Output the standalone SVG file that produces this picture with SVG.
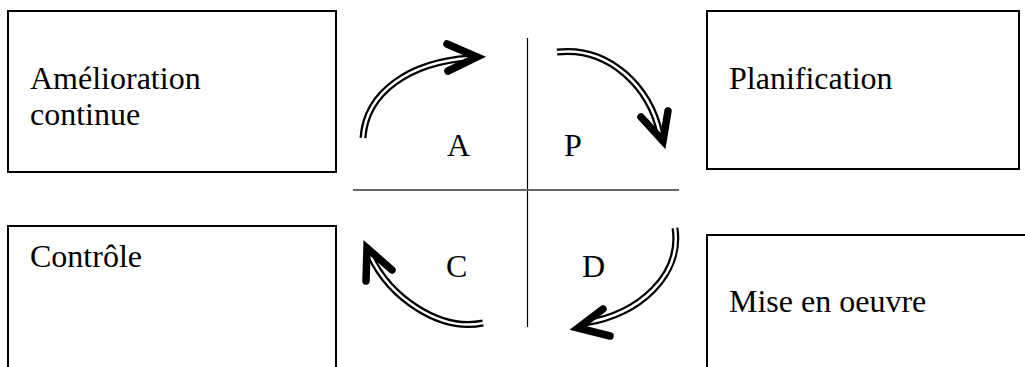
<svg xmlns="http://www.w3.org/2000/svg" width="1025" height="367" viewBox="0 0 1025 367">
<style>
.box{fill:#fff;stroke:#000;stroke-width:2}
.t{font-family:"Liberation Serif","Times New Roman",serif;font-size:32px;fill:#000}
.outer{fill:none;stroke:#000;stroke-width:7}
.inner{fill:none;stroke:#fff;stroke-width:2.5}
.head{fill:none;stroke:#000;stroke-width:7.5;stroke-linecap:round;stroke-linejoin:miter}
.axis{stroke:#666;stroke-width:2}
.vaxis{stroke:#000;stroke-width:1.2}
</style>
<rect width="1025" height="367" fill="#fff"/>
<g id="amelioration">
<rect class="box" x="8" y="11" width="328" height="161"/>
<text class="t" x="30" y="89">Amélioration</text>
<text class="t" x="30" y="125">continue</text>
</g>
<g id="planification">
<rect class="box" x="707" y="11" width="312" height="158"/>
<text class="t" x="729" y="89">Planification</text>
</g>
<g id="controle">
<rect class="box" x="8" y="226" width="328" height="150"/>
<text class="t" x="30" y="267">Contrôle</text>
</g>
<g id="miseenoeuvre">
<rect class="box" x="707" y="235" width="330" height="150"/>
<text class="t" x="729" y="312">Mise en oeuvre</text>
</g>
<g id="cross">
<line class="vaxis" x1="527.5" y1="38" x2="527.5" y2="327"/>
<line class="axis" x1="353" y1="190" x2="679" y2="190"/>
<text class="t" x="447" y="156">A</text>
<text class="t" x="564" y="156">P</text>
<text class="t" x="446" y="277">C</text>
<text class="t" x="582" y="277">D</text>
</g>
<g id="connectors">
<path class="outer" d="M363,138 C366,92 410,62 470,58"/>
<path class="inner" d="M363,138 C366,92 410,62 470,58"/>
<polyline class="head" points="447,44 477,57 448,71"/>
<path class="outer" d="M557,52 C610,46 650,88 660,134"/>
<path class="inner" d="M557,52 C610,46 650,88 660,134"/>
<polyline class="head" points="641,117 663,141 668,111"/>
<path class="outer" d="M483,323 C440,332 390,298 370,255"/>
<path class="inner" d="M483,323 C440,332 390,298 370,255"/>
<polyline class="head" points="366,281 367,248 392,270"/>
<path class="outer" d="M675,228 C682,275 640,314 585,323"/>
<path class="inner" d="M675,228 C682,275 640,314 585,323"/>
<polyline class="head" points="603,309 578,328 610,336"/>
</g>
</svg>
